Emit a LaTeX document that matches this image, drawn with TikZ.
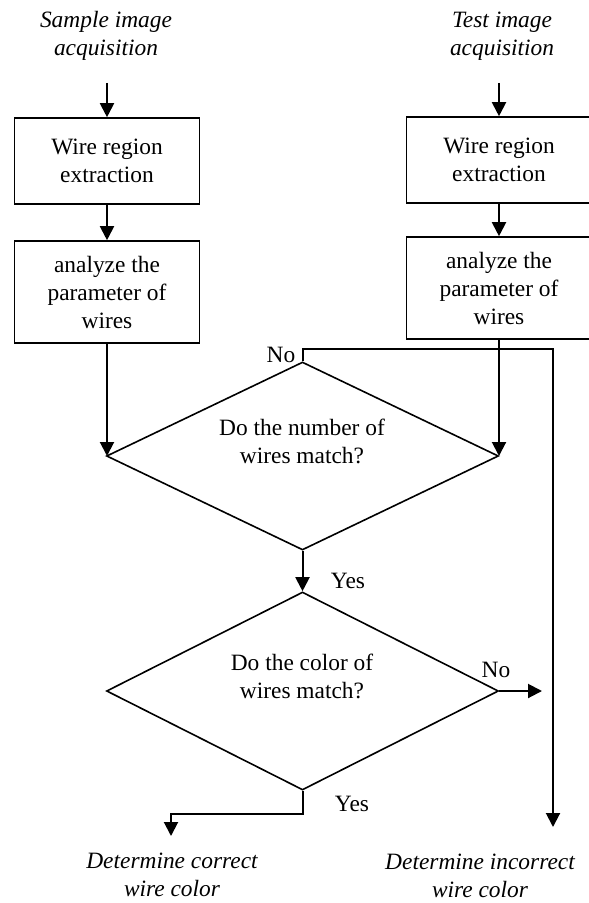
\documentclass[tikz,border=0pt]{standalone}
\usepackage{fontspec}
\setmainfont{Liberation Serif}
\usetikzlibrary{arrows.meta,shapes.geometric}

\begin{document}
\begin{tikzpicture}[x=0.5pt, y=-0.5pt,
    box/.style={draw, line width=0.8pt, minimum width=92.5pt, inner sep=0pt, align=center, font=\FLOWFONT},
    decision/.style={draw, diamond, line width=0.8pt, minimum width=196pt, inner sep=0pt},
    question/.style={align=center, inner sep=0pt, font=\FLOWFONT},
    source/.style={align=center, inner sep=0pt, font=\FLOWFONT\itshape},
    tag/.style={inner sep=0pt, font=\FLOWFONT},
    flow/.style={-{Triangle[length=7pt, width=7pt]}, line width=1pt}]

  \newcommand\FLOWFONT{\fontsize{11.7pt}{14pt}\selectfont}

  \useasboundingbox (0,0) rectangle (588,903);

  % inputs
  \node[source] (sample) at (106,36) {Sample image\\acquisition};
  \node[source] (test) at (502,36) {Test image\\acquisition};
  \coordinate (sample-in) at (107,83);
  \coordinate (test-in) at (499,83);

  % preprocessing
  \node[box, minimum height=43pt] (extract1) at (107,161) {Wire region\\extraction};
  \node[box, minimum height=51pt] (param1) at (107,292) {analyze the\\parameter of\\wires};
  \node[box, minimum height=43pt] (extract2) at (499,160) {Wire region\\extraction};
  \node[box, minimum height=51pt] (param2) at (499,288) {analyze the\\parameter of\\wires};

  % decisions
  \node[decision, minimum height=94pt] (count) at (302.5,456) {};
  \node[question] (count-text) at (302,441) {Do the number of\\wires match?};
  \node[decision, minimum height=99pt] (colour) at (302.5,691) {};
  \node[question] (colour-text) at (302,676) {Do the color of\\wires match?};

  % outputs
  \coordinate (no-turn) at (553,349);
  \coordinate (wrong) at (553,827);
  \coordinate (no-end) at (542,691);
  \coordinate (right) at (171,836);
  \node[source] (correct) at (172,875) {Determine correct\\wire color};
  \node[source] (incorrect) at (480,876) {Determine incorrect\\wire color};

  \draw[flow] (sample-in) -- (extract1);
  \draw[flow] (test-in) -- (extract2);
  \draw[flow] (extract1) -- (param1);
  \draw[flow] (extract2) -- (param2);
  \draw[flow] (param1.south) -- (param1.south |- count.west);
  \draw[flow] (param2.south) -- (param2.south |- count.east);

  \draw[flow] (count.north) |- (no-turn) -- (wrong);
  \node[tag] (no1) at (281,355) {No};
  \draw[flow] (count.south) -- (colour.north);
  \node[tag] (yes1) at (348,581) {Yes};
  \draw[flow] (colour.east) -- (no-end);
  \node[tag] (no2) at (496,670) {No};
  \draw[flow] (colour.south) -- ++(0,23) -| (right);
  \node[tag] (yes2) at (352,804) {Yes};

\end{tikzpicture}
\end{document}
